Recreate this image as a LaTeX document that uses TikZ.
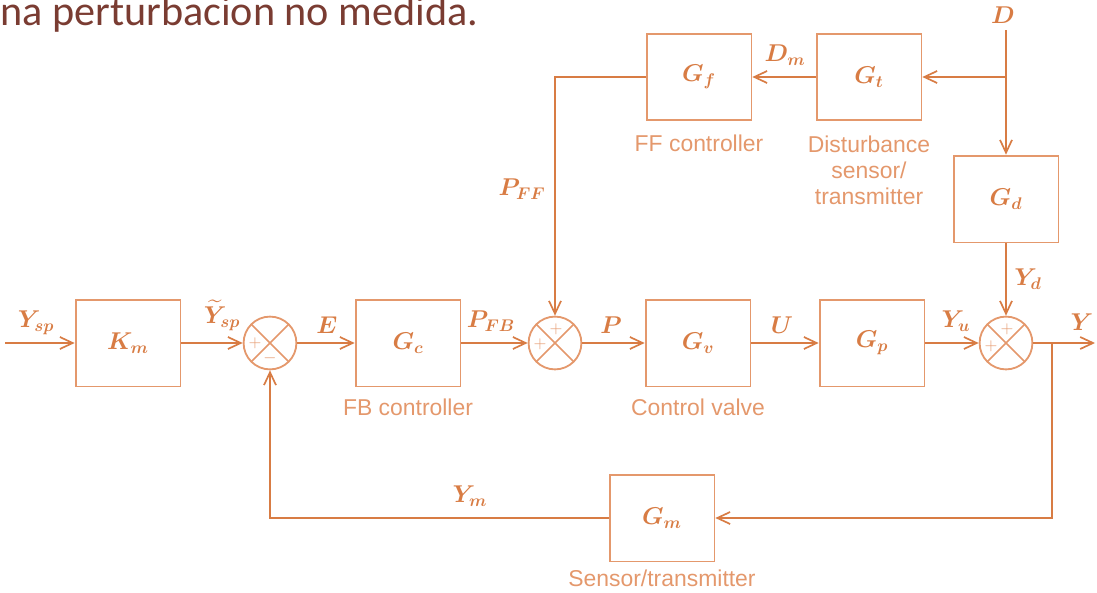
\documentclass[tikz,border=0pt]{standalone}
\usepackage{amsmath}
\usepackage{bm}
\usepackage{fontspec}
\setsansfont{Liberation Sans}
\newfontfamily\titlefont{Carlito}
\usetikzlibrary{arrows.meta,positioning,calc}
\definecolor{diagorange}{RGB}{216,124,68}
\definecolor{boxorange}{RGB}{228,152,108}
\definecolor{titlebrown}{RGB}{122,60,50}

\tikzset{
  block/.style={draw=boxorange, line width=1.3pt, fill=white, minimum width=2.62cm,
    minimum height=2.17cm, font=\fontsize{18}{20}\selectfont, text=diagorange},
  sumnode/.style={circle, draw=boxorange, line width=1.3pt, minimum size=1.32cm, inner sep=0pt,
    path picture={\draw[boxorange, line width=1.1pt]
      (path picture bounding box.north west) -- (path picture bounding box.south east)
      (path picture bounding box.north east) -- (path picture bounding box.south west);}},
  wire/.style={draw=diagorange, line width=2pt},
  signal/.style={wire, -{Straight Barb[length=0.32cm, width=0.3cm, line width=1.2pt]}},
  caption/.style={font=\sffamily\fontsize{16.3}{18.5}\selectfont, text=boxorange, align=center},
  sig/.style={text=diagorange, font=\fontsize{17}{19}\selectfont, inner sep=1pt},
  sign/.style={text=boxorange, font=\fontsize{13}{14}\selectfont, inner sep=0pt}
}

\begin{document}
\begin{tikzpicture}[x=0.025cm, y=-0.025cm]
    \useasboundingbox (0,0) rectangle (1097,592);

    % Title line
    \node[anchor=base west, inner sep=0pt, text=titlebrown, font=\titlefont\fontsize{30}{32}\selectfont]
        (title) at (0,25) {na perturbacion no medida.};

    % Blocks
    \node[block] (Km) at (128,343) {$\bm{K_m}$};
    \node[block] (Gc) at (408,343) {$\bm{G_c}$};
    \node[block] (Gv) at (698,343) {$\bm{G_v}$};
    \node[block] (Gp) at (872,343) {$\bm{G_p}$};
    \node[block] (Gm) at (662,518) {$\bm{G_m}$};
    \node[block] (Gf) at (699,77) {$\bm{G_f}$};
    \node[block] (Gt) at (869,77) {$\bm{G_t}$};
    \node[block] (Gd) at (1006,199) {$\bm{G_d}$};

    % Summing junctions
    \node[sumnode] (s1) at (270,343) {};
    \node[sumnode] (s2) at (555,343) {};
    \node[sumnode] (s3) at (1006,343) {};

    \node[sign] (s1a) at (255,343) {$+$};
    \node[sign] (s1b) at (270,358) {$-$};
    \node[sign] (s2a) at (556,329) {$+$};
    \node[sign] (s2b) at (540,344) {$+$};
    \node[sign] (s3a) at (1007,329) {$+$};
    \node[sign] (s3b) at (991,346) {$+$};

    % Free ends and branch points
    \coordinate (Yin) at (5,343);
    \coordinate (Ysplit) at (1052,343);
    \coordinate (Yout) at (1095,343);
    \coordinate (Dtop) at (1006,30);
    \coordinate (Dsplit) at (1006,77);

    % Main path
    \draw[signal] (Yin) -- (Km.west);
    \draw[signal] (Km.east) -- (s1.west);
    \draw[signal] (s1.east) -- (Gc.west);
    \draw[signal] (Gc.east) -- (s2.west);
    \draw[signal] (s2.east) -- (Gv.west);
    \draw[signal] (Gv.east) -- (Gp.west);
    \draw[signal] (Gp.east) -- (s3.west);
    \draw[wire] (s3.east) -- (Ysplit);
    \draw[signal] (Ysplit) -- (Yout);

    % Feedback loop
    \draw[signal] (Ysplit) |- (Gm.east);
    \draw[signal] (Gm.west) -| (s1.south);

    % Disturbance and feedforward
    \draw[wire] (Dtop) -- (Dsplit);
    \draw[signal] (Dsplit) -- (Gd.north);
    \draw[signal] (Dsplit) -- (Gt.east);
    \draw[signal] (Gt.west) -- (Gf.east);
    \draw[signal] (Gf.west) -| (s2.north);
    \draw[signal] (Gd.south) -- (s3.north);

    % Signal labels
    \node[sig] (lYsp) at (36,323) {$\bm{Y_{sp}}$};
    \node[sig] (lYt) at (222,315) {$\bm{\widetilde{Y}_{sp}}$};
    \node[sig] (lE) at (327,325) {$\bm{E}$};
    \node[sig] (lPfb) at (491,321) {$\bm{P_{FB}}$};
    \node[sig] (lP) at (611,325) {$\bm{P}$};
    \node[sig] (lU) at (782,325) {$\bm{U}$};
    \node[sig] (lYu) at (956,321) {$\bm{Y_u}$};
    \node[sig] (lY) at (1082,322) {$\bm{Y}$};
    \node[sig] (lD) at (1003,15) {$\bm{D}$};
    \node[sig] (lDm) at (785,55) {$\bm{D_m}$};
    \node[sig] (lPff) at (522,189) {$\bm{P_{FF}}$};
    \node[sig] (lYd) at (1028,279) {$\bm{Y_d}$};
    \node[sig] (lYm) at (470,496) {$\bm{Y_m}$};

    % Captions
    \node[caption] (cFf) at (699,143) {FF controller};
    \node[caption] (cDist) at (869,170) {Disturbance\\sensor/\\transmitter};
    \node[caption] (cFb) at (408,407) {FB controller};
    \node[caption] (cCv) at (698,407) {Control valve};
    \node[caption] (cSt) at (662,578) {Sensor/transmitter};
\end{tikzpicture}
\end{document}
